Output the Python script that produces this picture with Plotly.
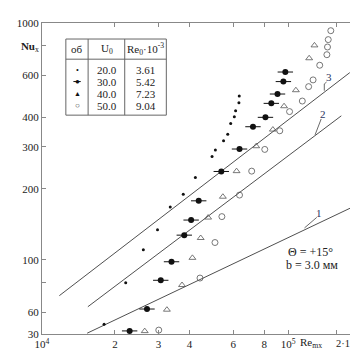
import plotly.graph_objects as go

# ---- data ----
re_20 = [18090, 22110, 26040, 29700, 33430, 37730, 42210, 49280, 50830, 54830,
         57000, 58600, 60600, 61330, 63240, 63420]
nu_20 = [53.5, 80.1, 110.4, 134.3, 167.3, 189.6, 222.8, 273.5, 291.2, 318.4,
         339, 376.6, 402.2, 426.8, 461, 492]

re_30 = [22930, 26940, 30610, 33830, 38080, 40580, 43540, 53690, 63590, 72050,
         80900, 85430, 90480, 95550, 97300]
nu_30 = [50.2, 62.1, 82.1, 98.3, 127.3, 147.4, 177.7, 236.3, 293.9, 365,
         399.9, 458, 501.5, 566, 621]

re_40 = [26380, 32410, 37290, 41070, 44350, 47520, 54490, 61880, 74250, 86680,
         96160, 107300, 121400, 127500]
nu_40 = [50.1, 61.7, 78.4, 102.1, 123.8, 151, 184.9, 237.1, 302, 355,
         445.5, 520.5, 710, 804.6]

re_50 = [30050, 44060, 50640, 53990, 63590, 71200, 80390, 92400, 101200, 113900,
         120800, 125900, 133900, 143100, 143900, 144900, 148400]
nu_50 = [50.6, 83.9, 118.5, 152.4, 187.9, 237.1, 292.8, 350.9, 422.8, 468.5,
         538.9, 575.3, 663.4, 735, 792, 851, 928]

line1_re = [15460, 179700]
line1_nu = [49.1, 166.4]
line2_re = [15560, 163600]
line2_nu = [63.5, 405.8]
line3_re = [11940, 177000]
line3_nu = [70.7, 617.5]

table_obj = ["20.0", "30.0", "40.0", "50.0"]
table_re0 = ["3.61", "5.42", "7.23", "9.04"]

x_tickvals = [10164, 20000, 30000, 40000, 60000, 80000, 100000, 156700]
x_ticktext = ["10<sup>4</sup>", "2", "3", "4", "6", "8", "10<sup>5</sup>", ""]
y_tickvals = [48.8, 60, 80, 100, 200, 300, 400, 600, 800, 1000]
y_ticktext = ["30", "60", "", "100", "200", "300", "400", "600", "<b>Nu</b><sub>x</sub>", "1000"]

# ---- layout constants ----
W, H = 358, 351
ML, MR, MT, MB = 29, 9, 10, 17
PW, PH = W - ML - MR, H - MT - MB
FONT = "Liberation Serif"
TXT = "#222"
LBL = "#2a3560"


def px(x):
    return (x - ML) / PW


def py(y):
    return (H - MB - y) / PH


fig = go.Figure()

for xs, ys in [(line1_re, line1_nu), (line2_re, line2_nu), (line3_re, line3_nu)]:
    fig.add_trace(go.Scatter(x=xs, y=ys, mode="lines",
                             line=dict(color="#222", width=0.8), hoverinfo="skip"))

fig.add_trace(go.Scatter(x=re_20, y=nu_20, mode="markers",
                         marker=dict(symbol="circle", size=3, color="#111")))
fig.add_trace(go.Scatter(x=re_30, y=nu_30, mode="markers",
                         marker=dict(symbol="line-ew-open", size=11, color="#111",
                                     line=dict(color="#111", width=1))))
fig.add_trace(go.Scatter(x=re_30, y=nu_30, mode="markers",
                         marker=dict(symbol="circle", size=6, color="#111")))
fig.add_trace(go.Scatter(x=re_40, y=nu_40, mode="markers",
                         marker=dict(symbol="triangle-up-open", size=6, color="#555",
                                     line=dict(color="#555", width=0.8))))
fig.add_trace(go.Scatter(x=re_50, y=nu_50, mode="markers",
                         marker=dict(symbol="circle-open", size=6, color="#555",
                                     line=dict(color="#555", width=0.8))))

axis_common = dict(showgrid=False, zeroline=False, showline=True, linecolor="#888",
                   linewidth=1, mirror="ticks", ticks="inside", ticklen=4,
                   tickcolor="#888", tickwidth=1,
                   tickfont=dict(family=FONT, size=11, color=TXT))

fig.update_xaxes(type="log", range=[4.0071, 5.273], tickvals=x_tickvals,
                 ticktext=x_ticktext, ticklabelstandoff=0, **axis_common)
fig.update_yaxes(type="log", range=[1.6877, 3.0], tickvals=y_tickvals,
                 ticktext=y_ticktext, **axis_common)

shapes = []
ann = []


def line(x0, y0, x1, y1, color="#555", width=1):
    shapes.append(dict(type="line", xref="paper", yref="paper",
                       x0=px(x0), y0=py(y0), x1=px(x1), y1=py(y1),
                       line=dict(color=color, width=width)))


def text(x, y, s, size=11, color=TXT, anchor="center"):
    ann.append(dict(xref="paper", yref="paper", x=px(x), y=py(y), text=s,
                    showarrow=False, xanchor=anchor, yanchor="middle",
                    font=dict(family=FONT, size=size, color=color)))


# table box
shapes.append(dict(type="rect", xref="paper", yref="paper",
                   x0=px(53.3), y0=py(106), x1=px(155.7), y1=py(26.7),
                   line=dict(color="#666", width=1)))
line(76, 26.7, 76, 106, "#666")
line(113.3, 26.7, 113.3, 106, "#666")
line(53.3, 47.7, 155.7, 47.7, "#666")

text(64.7, 37.5, "об", 11)
text(95, 37.5, "U<sub>0</sub>", 11)
text(134.5, 37.5, "Re<sub>0</sub>·10<sup>-3</sup>", 11)

rows_y = [59, 71, 83.5, 96]
for yv, a, b in zip(rows_y, table_obj, table_re0):
    text(95, yv, a, 11)
    text(134.5, yv, b, 11)

# table symbols
text(64.7, rows_y[0], "•", 8, "#111")
line(61, rows_y[1], 68.5, rows_y[1], "#111", 1)
text(64.7, rows_y[1], "●", 8, "#111")
text(64.7, rows_y[2], "▲", 7, "#111")
text(64.7, rows_y[3], "○", 8, "#333")

# line labels and leaders
text(311.5, 208, "1", 11, LBL)
line(296.5, 223.5, 309, 212.5, "#444", 0.8)
text(315, 104.5, "2", 11, LBL)
line(307.3, 126.5, 313.5, 110, "#444", 0.8)
text(321, 66, "3", 11, LBL)
line(316.7, 80.5, 316.7, 73.5, "#444", 0.8)
line(316.7, 73.5, 319, 71.5, "#444", 0.8)

# condition text
text(303, 249, "Θ = +15°", 12)
text(304, 262, "b = 3.0 мм", 12)

# axis label & extra tick label
text(316, 343, "Re<sub>mx</sub>", 11, TXT, "right")
text(354, 343, "2·10<sup>5</sup>", 10.5, TXT, "right")

fig.update_layout(width=W, height=H, margin=dict(l=ML, r=MR, t=MT, b=MB),
                  paper_bgcolor="white", plot_bgcolor="white",
                  showlegend=False, shapes=shapes, annotations=ann,
                  font=dict(family=FONT, color=TXT))

fig.write_html("out.html")
